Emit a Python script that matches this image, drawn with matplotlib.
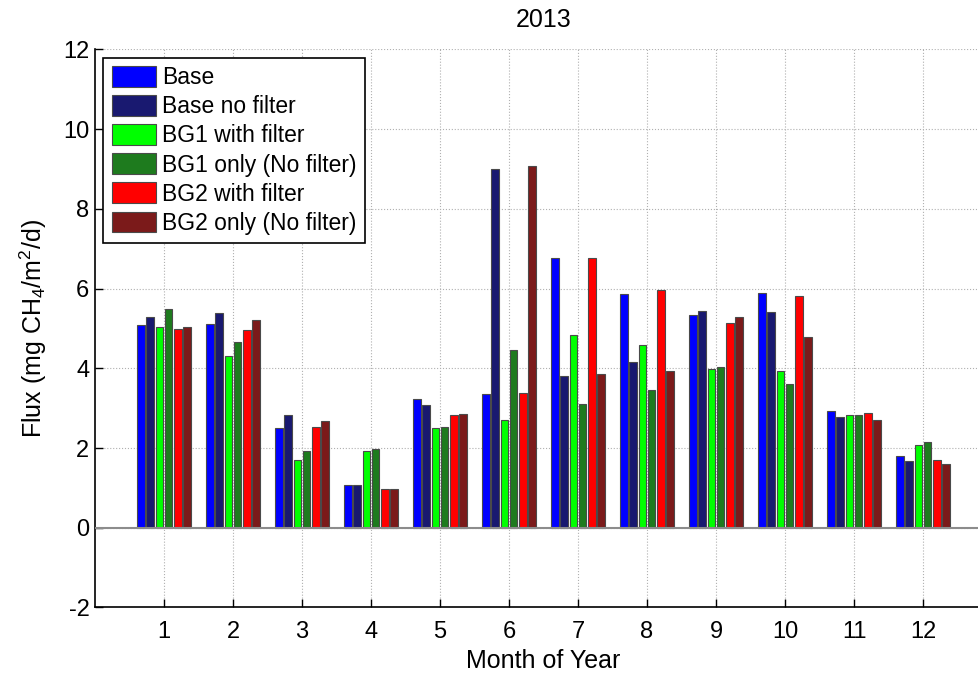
import numpy as np
import matplotlib
matplotlib.use("Agg")
import matplotlib.pyplot as plt

plt.rcParams['font.family'] = ['Liberation Sans', 'DejaVu Sans']
plt.rcParams['mathtext.default'] = 'regular'
plt.rcParams['axes.unicode_minus'] = False

# monthly mean CH4 flux, 2013
months = np.arange(1, 13)
base = [5.09, 5.12, 2.50, 1.07, 3.22, 3.35, 6.77, 5.86, 5.34, 5.90, 2.94, 1.79]
base_nofilter = [5.29, 5.39, 2.84, 1.07, 3.07, 9.01, 3.81, 4.17, 5.44, 5.41, 2.77, 1.67]
bg1_filter = [5.03, 4.31, 1.71, 1.92, 2.49, 2.70, 4.83, 4.58, 3.98, 3.92, 2.83, 2.07]
bg1_only = [5.50, 4.66, 1.92, 1.97, 2.52, 4.45, 3.11, 3.45, 4.04, 3.60, 2.83, 2.14]
bg2_filter = [4.98, 4.95, 2.53, 0.96, 2.82, 3.37, 6.77, 5.96, 5.14, 5.82, 2.89, 1.70]
bg2_only = [5.04, 5.21, 2.68, 0.96, 2.85, 9.08, 3.85, 3.93, 5.29, 4.79, 2.70, 1.61]

labels = ['Base', 'Base no filter', 'BG1 with filter', 'BG1 only (No filter)',
          'BG2 with filter', 'BG2 only (No filter)']
colors = ['#0000ff', '#191970', '#00ff00', '#1e7b1e', '#ff0000', '#7b1a1a']


def plot_grouped_flux(series, labels, colors, plt_params={
        'figsize': (9.79, 6.78),
        'pitch': 0.133,
        'bar_width': 0.111,
        'title': '2013',
        'xlabel': 'Month of Year',
        'ylabel': 'Flux (mg CH$_4$/m$^2$/d)',
        'xlim': (0, 13),
        'ylim': (-2, 12)}):
    fig = plt.figure(figsize=plt_params['figsize'], dpi=100)
    ax = fig.add_axes([0.097, 0.1041, 0.9163, 0.8229])
    n = len(series)
    for i, (vals, lab, col) in enumerate(zip(series, labels, colors)):
        x = months + (i - (n - 1) / 2) * plt_params['pitch']
        ax.bar(x, vals, width=plt_params['bar_width'], color=col,
               edgecolor='#4a4a4a', linewidth=0.8, label=lab, zorder=3)
    ax.axhline(0, color='#8c8c8c', linewidth=1.5, zorder=4)

    ax.set_xlim(plt_params['xlim'])
    ax.set_ylim(plt_params['ylim'])
    ax.set_xticks(months)
    ax.set_yticks(np.arange(-2, 13, 2))
    ax.grid(True, linestyle=':', color='#b0b0b0', linewidth=0.8)
    ax.set_axisbelow(True)
    for s in ['top', 'right']:
        ax.spines[s].set_visible(False)
    for s in ['left', 'bottom']:
        ax.spines[s].set_linewidth(1.2)
    ax.tick_params(direction='in', length=6, width=1, labelsize=17)
    ax.tick_params(axis='x', pad=10)
    ax.tick_params(axis='y', pad=4)

    ax.set_xlabel(plt_params['xlabel'], fontsize=18, labelpad=4)
    ax.set_ylabel(plt_params['ylabel'], fontsize=18, labelpad=10)
    ax.set_title(plt_params['title'], fontsize=18, pad=16)

    leg = ax.legend(loc='upper left', fontsize=16.5, handlelength=1.95,
                    handleheight=1.0, labelspacing=0.26, handletextpad=0.25,
                    borderpad=0.38, borderaxespad=0.35, fancybox=False,
                    framealpha=1, edgecolor='black')
    leg.get_frame().set_linewidth(1.2)
    fig.savefig('out.png', dpi=100)


plot_grouped_flux([base, base_nofilter, bg1_filter, bg1_only, bg2_filter, bg2_only],
                  labels, colors)
